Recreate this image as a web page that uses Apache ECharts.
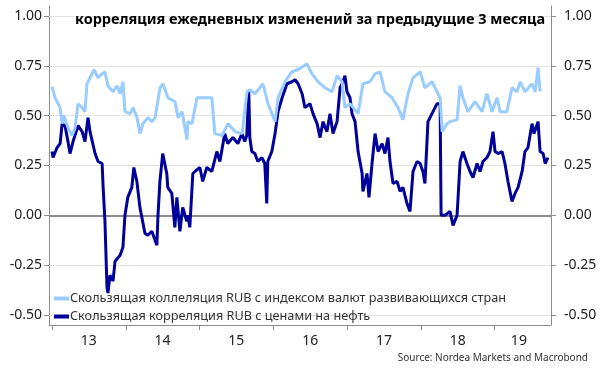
<!DOCTYPE html>
<html><head><meta charset="utf-8">
<script src="https://cdn.jsdelivr.net/npm/echarts@6/dist/echarts.min.js"></script>
<style>html,body{margin:0;padding:0;background:#fff}#c{width:600px;height:378px}</style>
</head><body><div id="c"></div>
<script>
const titleText = 'корреляция ежедневных изменений за предыдущие 3 месяца';
const sourceText = 'Source: Nordea Markets and Macrobond';
const nameEM = 'Скользящая коллеляция RUB с индексом валют развивающихся стран';
const nameOil = 'Скользящая корреляция RUB с ценами на нефть';

const emDates = ['2013-01-01','2013-01-16','2013-02-10','2013-02-20','2013-03-01','2013-03-21','2013-04-10','2013-04-25','2013-05-10','2013-05-30','2013-06-13','2013-06-23','2013-07-08','2013-07-28','2013-08-17','2013-09-06','2013-09-20','2013-10-05','2013-10-30','2013-11-19','2013-12-04','2013-12-18','2013-12-28',
'2014-01-22','2014-02-06','2014-02-26','2014-03-13','2014-03-27','2014-04-21','2014-05-11','2014-05-26','2014-06-20','2014-07-04','2014-07-29','2014-09-02','2014-09-17','2014-10-07','2014-10-31','2014-11-05','2014-11-25','2014-12-20',
'2015-01-18','2015-03-03','2015-03-18','2015-04-23','2015-05-22','2015-06-26','2015-07-31','2015-08-24','2015-09-08','2015-10-03','2015-11-11','2015-12-06','2015-12-26',
'2016-01-10','2016-01-25','2016-02-28','2016-04-02','2016-05-03','2016-06-16','2016-07-11','2016-08-10','2016-09-13','2016-10-18','2016-11-12','2016-12-07','2016-12-21',
'2017-01-15','2017-02-24','2017-03-20','2017-04-24','2017-05-19','2017-06-13','2017-07-07','2017-08-11','2017-09-10','2017-10-04','2017-10-29','2017-11-23','2017-12-28',
'2018-01-21','2018-02-25','2018-03-22','2018-04-06','2018-04-16','2018-05-10','2018-05-25','2018-06-29','2018-07-14','2018-07-28','2018-08-22','2018-09-26','2018-10-31','2018-11-24','2018-12-19',
'2019-01-13','2019-01-28','2019-03-03','2019-03-28','2019-04-22','2019-05-07','2019-05-31','2019-07-05','2019-07-20','2019-08-04','2019-08-14'];
const emValues = [0.645,0.59,0.54,0.46,0.50,0.44,0.40,0.44,0.56,0.54,0.52,0.66,0.69,0.73,0.69,0.71,0.72,0.65,0.62,0.65,0.61,0.67,0.52,
0.51,0.54,0.49,0.41,0.46,0.49,0.47,0.49,0.64,0.66,0.59,0.57,0.49,0.52,0.38,0.47,0.46,0.59,
0.59,0.59,0.41,0.40,0.46,0.42,0.41,0.62,0.63,0.61,0.66,0.56,0.51,
0.47,0.59,0.67,0.72,0.73,0.76,0.71,0.67,0.64,0.62,0.70,0.67,0.54,
0.56,0.51,0.66,0.67,0.71,0.72,0.62,0.59,0.54,0.48,0.61,0.69,0.72,
0.64,0.67,0.62,0.59,0.42,0.46,0.47,0.48,0.65,0.59,0.52,0.57,0.52,0.61,0.52,
0.59,0.52,0.52,0.64,0.62,0.67,0.62,0.66,0.62,0.74,0.62];

const oilDates = ['2013-01-01','2013-01-06','2013-01-26','2013-02-10','2013-02-20','2013-03-06','2013-03-21','2013-03-31','2013-04-15','2013-05-10','2013-05-30','2013-06-13','2013-06-28','2013-07-08','2013-08-02','2013-08-17','2013-09-06','2013-09-11','2013-09-20','2013-09-30','2013-10-05','2013-10-15','2013-10-30','2013-11-09','2013-12-04','2013-12-18','2013-12-28',
'2014-01-11','2014-01-31','2014-02-10','2014-02-25','2014-03-12','2014-04-06','2014-04-20','2014-05-10','2014-06-04','2014-06-09','2014-06-19','2014-07-03','2014-07-23','2014-07-28','2014-08-17','2014-09-01','2014-09-11','2014-09-26','2014-10-10','2014-10-30','2014-11-04','2014-11-14','2014-11-29','2014-12-09',
'2015-01-03','2015-01-17','2015-02-06','2015-03-03','2015-03-28','2015-04-12','2015-05-06','2015-05-21','2015-06-15','2015-07-10','2015-07-30','2015-08-13','2015-08-23','2015-09-02','2015-09-07','2015-09-17','2015-10-02','2015-10-17','2015-11-06','2015-11-20','2015-11-30','2015-12-05','2015-12-25',
'2016-01-10','2016-01-25','2016-02-14','2016-03-09','2016-04-03','2016-04-18','2016-05-03','2016-05-23','2016-06-06','2016-07-01','2016-07-16','2016-08-05','2016-08-20','2016-09-03','2016-09-23','2016-10-08','2016-10-23','2016-11-12','2016-11-27','2016-12-11','2016-12-21','2016-12-31',
'2017-01-15','2017-01-25','2017-02-09','2017-02-24','2017-03-16','2017-03-20','2017-04-09','2017-04-19','2017-05-04','2017-05-19','2017-06-03','2017-06-23','2017-07-07','2017-07-22','2017-08-01','2017-08-16','2017-09-05','2017-09-20','2017-10-04','2017-10-24','2017-11-08','2017-11-23','2017-12-13','2017-12-28',
'2018-01-11','2018-01-21','2018-02-05','2018-02-25','2018-03-22','2018-04-06','2018-04-11','2018-04-30','2018-05-25','2018-06-09','2018-06-29','2018-07-14','2018-07-28','2018-08-17','2018-09-01','2018-09-16','2018-10-06','2018-10-21','2018-11-04','2018-11-24','2018-12-09','2018-12-24',
'2019-01-03','2019-01-18','2019-02-07','2019-02-21','2019-03-08','2019-03-28','2019-04-12','2019-04-27','2019-05-17','2019-05-31','2019-06-15','2019-07-05','2019-07-15','2019-08-04','2019-08-14','2019-08-29','2019-09-08','2019-09-22'];
const oilValues = [0.32,0.29,0.34,0.36,0.46,0.45,0.37,0.31,0.37,0.45,0.42,0.37,0.49,0.42,0.31,0.27,0.26,0.14,-0.03,-0.36,-0.39,-0.30,-0.33,-0.23,-0.20,-0.16,0.00,
0.09,0.14,0.24,0.17,0.04,-0.09,-0.10,-0.08,-0.15,-0.01,0.17,0.31,0.21,0.14,0.11,-0.06,0.09,-0.08,0.04,-0.03,0.00,-0.06,0.21,0.22,
0.24,0.17,0.24,0.22,0.32,0.27,0.41,0.36,0.39,0.36,0.41,0.37,0.40,0.62,0.39,0.32,0.31,0.27,0.29,0.26,0.06,0.27,0.32,
0.41,0.52,0.59,0.66,0.67,0.68,0.66,0.61,0.54,0.56,0.51,0.46,0.39,0.47,0.42,0.51,0.41,0.47,0.64,0.67,0.70,0.62,
0.59,0.51,0.47,0.32,0.21,0.12,0.21,0.09,0.26,0.41,0.32,0.36,0.31,0.39,0.27,0.16,0.17,0.12,0.14,0.06,0.02,0.22,0.27,0.26,
0.22,0.16,0.47,0.51,0.56,0.56,0.00,0.00,0.02,-0.05,0.00,0.27,0.32,0.26,0.22,0.19,0.26,0.22,0.27,0.29,0.32,0.42,
0.32,0.31,0.32,0.26,0.17,0.07,0.11,0.14,0.22,0.32,0.34,0.46,0.41,0.47,0.32,0.31,0.26,0.29];

const yTicks = [-0.5,-0.25,0,0.25,0.5,0.75,1.0];
const yearTicks = ['2013-01-01','2014-01-01','2015-01-01','2016-01-01','2017-01-01','2018-01-01','2019-01-01'];
const yearLabelPos = ['2013-07-02','2014-07-02','2015-07-02','2016-07-02','2017-07-02','2018-07-02','2019-05-01'];
const xMin = '2012-12-17', xMax = '2019-10-07';
const yMin = -0.55, yMax = 1.05;

const FONT = 'Noto Sans';
const AXIS_GREY = '#8c8c8c';
const ts = s => new Date(s + 'T00:00:00Z').getTime();
const chart = echarts.init(document.getElementById('c'), null, {renderer: 'canvas'});
const gridLines = yTicks.filter(v => v !== 0).map(v => ({yAxis: v, lineStyle: {color: '#e3e3e3', width: 1, type: 'solid'}}));
gridLines.push({yAxis: 0, lineStyle: {color: AXIS_GREY, width: 2, type: 'solid'}});

const yAxisCommon = {
  type: 'value', min: yMin, max: yMax,
  axisLine: {show: true, onZero: false, lineStyle: {color: AXIS_GREY, width: 1}},
  axisTick: {show: true, length: 5, customValues: yTicks, lineStyle: {color: AXIS_GREY, width: 1}},
  splitLine: {show: false},
  axisLabel: {customValues: yTicks, formatter: v => v.toFixed(2), color: '#222', fontSize: 14, fontFamily: FONT}
};

chart.setOption({
  animation: false,
  textStyle: {fontFamily: FONT},
  grid: {left: 49, right: 49, top: 6, bottom: 53, containLabel: false},
  title: {text: titleText, left: 70, top: 7, textStyle: {fontSize: 14.5, fontWeight: 'bold', color: '#000', fontFamily: FONT}},
  legend: {
    data: [nameEM, nameOil], orient: 'vertical', left: 49, top: 287, itemGap: 5,
    itemWidth: 15, itemHeight: 4, icon: 'rect',
    textStyle: {fontSize: 12.7, color: '#333', fontFamily: FONT, padding: [0, 0, 0, -4]}
  },
  graphic: [{type: 'text', right: 12, top: 353, style: {text: sourceText, fontSize: 10, fill: '#333', fontFamily: FONT}}],
  xAxis: {
    type: 'value', min: ts(xMin), max: ts(xMax),
    axisLine: {show: true, onZero: false, lineStyle: {color: AXIS_GREY, width: 1}},
    axisTick: {show: true, length: 5, customValues: yearTicks.map(ts), lineStyle: {color: AXIS_GREY, width: 1}},
    splitLine: {show: false},
    axisLabel: {customValues: yearLabelPos.map(ts), formatter: v => String(new Date(v).getUTCFullYear()).slice(2), color: '#222', fontSize: 14, fontFamily: FONT, margin: 9}
  },
  yAxis: [
    Object.assign({}, yAxisCommon, {position: 'left', axisLabel: Object.assign({}, yAxisCommon.axisLabel, {margin: 7})}),
    Object.assign({}, yAxisCommon, {position: 'right', axisLabel: Object.assign({}, yAxisCommon.axisLabel, {margin: 13})})
  ],
  series: [
    {name: nameOil, type: 'line', yAxisIndex: 0, showSymbol: false, data: oilDates.map((d, i) => [ts(d), oilValues[i]]),
     lineStyle: {color: '#00009a', width: 3}, itemStyle: {color: '#00009a'}, z: 3,
     markLine: {silent: true, symbol: 'none', label: {show: false}, data: gridLines, z: 1}},
    {name: nameEM, type: 'line', yAxisIndex: 0, showSymbol: false, data: emDates.map((d, i) => [ts(d), emValues[i]]),
     lineStyle: {color: '#99ccff', width: 3}, itemStyle: {color: '#99ccff'}, z: 4}
  ]
});
</script>
</body></html>
